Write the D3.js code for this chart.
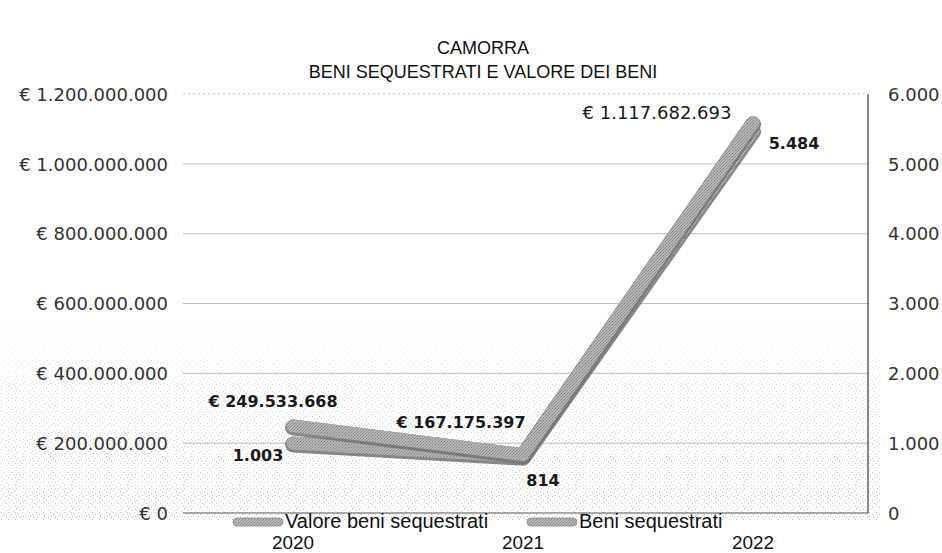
<!DOCTYPE html>
<html>
<head>
<meta charset="utf-8">
<script src="https://cdn.jsdelivr.net/npm/d3@7/dist/d3.min.js"></script>
<style>
  html, body { margin: 0; padding: 0; background: #fff; }
  svg { display: block; }
</style>
</head>
<body>
<svg id="chart" width="942" height="553"></svg>
<script>
// ---- data ----
const categories = ["2020", "2021", "2022"];
const valoreBeni = [249533668, 167175397, 1117682693];
const beniSequestrati = [1003, 814, 5484];
const leftTicks = [0, 200000000, 400000000, 600000000, 800000000, 1000000000, 1200000000];
const rightTicks = [0, 1000, 2000, 3000, 4000, 5000, 6000];
const seriesNames = ["Valore beni sequestrati", "Beni sequestrati"];
const titleLines = ["CAMORRA", "BENI SEQUESTRATI E VALORE DEI BENI"];

// ---- setup ----
const W = 942, H = 553;
const svg = d3.select("#chart");
const loc = d3.formatLocale({decimal: ",", thousands: ".", grouping: [3], currency: ["€ ", ""]});
const fmtInt = loc.format(",d");
const fmtEur = v => "€ " + fmtInt(v);
const sansFont = "'Liberation Sans', Arial, sans-serif";

const plot = {left: 178, right: 868, top: 94, bottom: 513};
const x = d3.scaleBand().domain(categories).range([plot.left, plot.right]);
const xc = c => x(c) + x.bandwidth() / 2;
const yL = d3.scaleLinear().domain([0, 1200000000]).range([plot.bottom, plot.top]);
const yR = d3.scaleLinear().domain([0, 6000]).range([plot.bottom, plot.top]);

// ---- stipple texture (scan look) ----
const defs = svg.append("defs");
const pat = defs.append("pattern").attr("id", "stip").attr("patternUnits", "userSpaceOnUse")
  .attr("width", 7).attr("height", 7);
[[1,1],[4,3],[2,5],[6,6]].forEach(p => pat.append("rect").attr("x", p[0]).attr("y", p[1])
  .attr("width", 1).attr("height", 1).attr("fill", "#8a8a8a"));
const grad = defs.append("linearGradient").attr("id", "fadeG").attr("x1", 0).attr("x2", 0).attr("y1", 0).attr("y2", 1);
grad.append("stop").attr("offset", "0%").attr("stop-color", "#fff").attr("stop-opacity", 0);
grad.append("stop").attr("offset", "35%").attr("stop-color", "#fff").attr("stop-opacity", 0.5);
grad.append("stop").attr("offset", "100%").attr("stop-color", "#fff").attr("stop-opacity", 0.8);
const mask = defs.append("mask").attr("id", "fadeM");
mask.append("rect").attr("x", 0).attr("y", 320).attr("width", 880).attr("height", 200).attr("fill", "url(#fadeG)");
svg.append("rect").attr("x", 0).attr("y", 320).attr("width", 880).attr("height", 200)
  .attr("fill", "url(#stip)").attr("mask", "url(#fadeM)").attr("opacity", 0.7);

// ribbon texture
const rp = defs.append("pattern").attr("id", "ribbon").attr("patternUnits", "userSpaceOnUse")
  .attr("width", 3).attr("height", 3);
rp.append("rect").attr("width", 3).attr("height", 3).attr("fill", "#b8b8b8");
rp.append("rect").attr("x", 0).attr("y", 0).attr("width", 1).attr("height", 1).attr("fill", "#7e7e7e");
rp.append("rect").attr("x", 2).attr("y", 1).attr("width", 1).attr("height", 1).attr("fill", "#8e8e8e");
rp.append("rect").attr("x", 1).attr("y", 2).attr("width", 1).attr("height", 1).attr("fill", "#949494");

// ---- title ----
svg.append("g").selectAll("text").data(titleLines).join("text")
  .attr("x", 483).attr("y", (d, i) => 54 + i * 24)
  .attr("text-anchor", "middle")
  .attr("font-family", sansFont)
  .attr("font-size", 18).attr("fill", "#111")
  .text(d => d);

// ---- gridlines ----
svg.append("g").selectAll("line").data(leftTicks).join("line")
  .attr("x1", 183).attr("x2", plot.right)
  .attr("y1", d => yL(d)).attr("y2", d => yL(d))
  .attr("stroke", d => d === 0 ? "#8c8c8c" : "#bdbdbd")
  .attr("stroke-width", d => d === 0 ? 1.5 : 1)
  .attr("stroke-dasharray", (d, i) => i === leftTicks.length - 1 ? "2,3" : null);

// right axis line
svg.append("line").attr("x1", plot.right).attr("x2", plot.right)
  .attr("y1", yR(6000)).attr("y2", yR(0)).attr("stroke", "#111").attr("stroke-width", 1);

// ---- axes labels ----
const axisFont = "'DejaVu Sans', Verdana, sans-serif";
const leftAxis = d3.axisLeft(yL).tickValues(leftTicks).tickSize(0).tickPadding(0)
  .tickFormat(d => fmtEur(d));
svg.append("g").attr("transform", "translate(168,0)").call(leftAxis)
  .call(g => g.select(".domain").remove())
  .call(g => g.selectAll("text").attr("font-family", axisFont).attr("font-size", 18)
    .attr("fill", "#333").attr("dy", "0.35em"));

const rightAxis = d3.axisRight(yR).tickValues(rightTicks).tickSize(0).tickPadding(0)
  .tickFormat(d => fmtInt(d));
svg.append("g").attr("transform", "translate(888,0)").call(rightAxis)
  .call(g => g.select(".domain").remove())
  .call(g => g.selectAll("text").attr("font-family", axisFont).attr("font-size", 18)
    .attr("fill", "#333").attr("dy", "0.35em"));

// category labels
const xAxis = d3.axisBottom(x).tickSize(0).tickPadding(0);
svg.append("g").attr("transform", "translate(0,549)").call(xAxis)
  .call(g => g.select(".domain").remove())
  .call(g => g.selectAll("text").attr("font-family", sansFont)
    .attr("font-size", 18).attr("fill", "#111").attr("dy", "0")
    .attr("textLength", 42).attr("lengthAdjust", "spacingAndGlyphs"));

// ---- lines (ribbons) ----
const lineL = d3.line().x((d, i) => xc(categories[i])).y(d => yL(d));
const lineR = d3.line().x((d, i) => xc(categories[i])).y(d => yR(d));

function ribbon(path) {
  const g = svg.append("g");
  g.append("path").attr("d", path).attr("fill", "none").attr("stroke", "#727272")
    .attr("stroke-width", 16).attr("stroke-linejoin", "round").attr("stroke-linecap", "round")
    .attr("transform", "translate(0,1.5)").attr("opacity", 0.85);
  g.append("path").attr("d", path).attr("fill", "none").attr("stroke", "url(#ribbon)")
    .attr("stroke-width", 13).attr("stroke-linejoin", "round").attr("stroke-linecap", "round");
}
ribbon(lineR(beniSequestrati));
ribbon(lineL(valoreBeni));

// ---- data labels ----
const labFont = "'DejaVu Sans', Verdana, sans-serif";
const valOff = [[-20, -24], [-62, -32], [-96, -10]];
const beniOff = [[-35, 12], [20, 24], [41, 13]];
svg.append("g").selectAll("text").data(valoreBeni).join("text")
  .attr("x", (d, i) => xc(categories[i]) + valOff[i][0])
  .attr("y", (d, i) => yL(d) + valOff[i][1])
  .attr("dy", "0.35em").attr("text-anchor", "middle")
  .attr("font-family", labFont)
  .attr("font-size", (d, i) => i === 2 ? 18 : 16)
  .attr("font-weight", (d, i) => i === 2 ? "normal" : "bold")
  .attr("fill", "#1a1a1a")
  .text(d => fmtEur(d));
svg.append("g").selectAll("text").data(beniSequestrati).join("text")
  .attr("x", (d, i) => xc(categories[i]) + beniOff[i][0])
  .attr("y", (d, i) => yR(d) + beniOff[i][1])
  .attr("dy", "0.35em").attr("text-anchor", "middle")
  .attr("font-family", labFont).attr("font-size", 16).attr("font-weight", "bold")
  .attr("fill", "#1a1a1a")
  .text(d => fmtInt(d));

// ---- legend ----
const legX = [233, 527];
const leg = svg.append("g").selectAll("g").data(seriesNames).join("g")
  .attr("transform", (d, i) => `translate(${legX[i]},522)`);
leg.append("rect").attr("x", 0).attr("y", -4).attr("width", 50).attr("height", 8).attr("rx", 4)
  .attr("fill", "url(#ribbon)").attr("stroke", "#8a8a8a").attr("stroke-width", 0.8);
leg.append("text").attr("x", 52).attr("y", 6)
  .attr("font-family", sansFont)
  .attr("font-size", 20).attr("fill", "#111").text(d => d);
</script>
</body>
</html>
